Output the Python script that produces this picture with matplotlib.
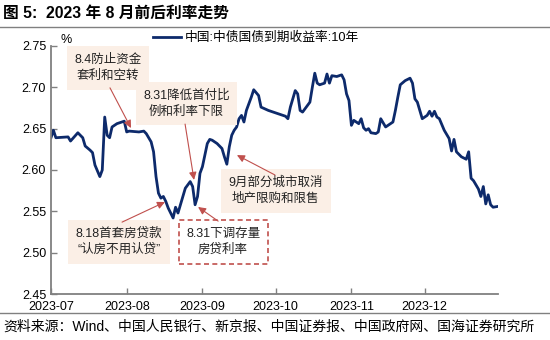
import matplotlib
matplotlib.use('Agg')
import matplotlib.pyplot as plt
import matplotlib.dates as mdates
import pandas as pd

plt.rcParams['font.family'] = ['Liberation Sans', 'Noto Sans CJK SC', 'DejaVu Sans']

# 10Y China government bond yield, Jul-Dec 2023
dates = [
    '2023-07-01', '2023-07-02', '2023-07-03', '2023-07-08', '2023-07-09', '2023-07-12',
    '2023-07-14', '2023-07-15', '2023-07-17', '2023-07-18', '2023-07-19', '2023-07-21',
    '2023-07-22', '2023-07-23', '2023-07-24', '2023-07-25', '2023-07-26', '2023-07-28',
    '2023-07-31', '2023-08-01', '2023-08-02', '2023-08-06', '2023-08-08', '2023-08-09',
    '2023-08-11', '2023-08-12', '2023-08-13', '2023-08-14', '2023-08-15', '2023-08-16',
    '2023-08-17', '2023-08-18', '2023-08-19', '2023-08-20', '2023-08-21', '2023-08-22',
    '2023-08-23', '2023-08-25', '2023-08-27', '2023-08-28', '2023-08-29', '2023-08-30',
    '2023-08-31', '2023-09-01', '2023-09-03', '2023-09-04', '2023-09-05', '2023-09-07',
    '2023-09-09', '2023-09-10', '2023-09-11', '2023-09-12', '2023-09-13', '2023-09-14',
    '2023-09-15', '2023-09-16', '2023-09-17', '2023-09-18', '2023-09-19', '2023-09-21',
    '2023-09-22', '2023-09-24', '2023-09-25', '2023-09-28', '2023-10-01', '2023-10-05',
    '2023-10-06', '2023-10-07', '2023-10-09', '2023-10-10', '2023-10-11', '2023-10-12',
    '2023-10-13', '2023-10-15', '2023-10-16', '2023-10-17', '2023-10-18', '2023-10-19',
    '2023-10-21', '2023-10-22', '2023-10-23', '2023-10-24', '2023-10-26', '2023-10-28',
    '2023-10-29', '2023-10-30', '2023-10-31', '2023-11-01', '2023-11-02', '2023-11-04',
    '2023-11-05', '2023-11-06', '2023-11-07', '2023-11-08', '2023-11-09', '2023-11-11',
    '2023-11-12', '2023-11-13', '2023-11-15', '2023-11-18', '2023-11-19', '2023-11-20',
    '2023-11-21', '2023-11-23', '2023-11-25', '2023-11-26', '2023-11-27', '2023-11-28',
    '2023-11-30', '2023-12-02', '2023-12-03', '2023-12-04', '2023-12-05', '2023-12-06',
    '2023-12-07', '2023-12-09', '2023-12-11', '2023-12-12', '2023-12-13', '2023-12-14',
    '2023-12-16', '2023-12-18', '2023-12-19', '2023-12-20', '2023-12-21', '2023-12-23',
    '2023-12-24', '2023-12-25', '2023-12-26', '2023-12-27', '2023-12-28', '2023-12-29',
    '2023-12-31',
]
yields = [
    2.639, 2.648, 2.639, 2.640, 2.635, 2.645,
    2.639, 2.629, 2.624, 2.621, 2.606, 2.592,
    2.600, 2.664, 2.642, 2.639, 2.652, 2.656,
    2.659, 2.646, 2.647, 2.646, 2.647, 2.644,
    2.634, 2.622, 2.592, 2.572, 2.566, 2.568,
    2.562, 2.554, 2.548, 2.542, 2.555, 2.548,
    2.558, 2.578, 2.586, 2.580, 2.558, 2.568,
    2.596, 2.604, 2.632, 2.637, 2.636, 2.632,
    2.626, 2.616, 2.607, 2.628, 2.642, 2.648,
    2.652, 2.662, 2.666, 2.658, 2.672, 2.688,
    2.697, 2.690, 2.676, 2.672, 2.669, 2.665,
    2.662, 2.676, 2.696, 2.692, 2.672, 2.670,
    2.674, 2.682, 2.700, 2.717, 2.705, 2.703,
    2.705, 2.716, 2.705, 2.714, 2.713, 2.715,
    2.709, 2.692, 2.684, 2.654, 2.660, 2.656,
    2.662, 2.651, 2.648, 2.650, 2.645, 2.644,
    2.646, 2.662, 2.652, 2.658, 2.672, 2.688,
    2.703, 2.708, 2.711, 2.705, 2.686, 2.682,
    2.662, 2.666, 2.671, 2.665, 2.671, 2.664,
    2.662, 2.648, 2.638, 2.623, 2.637, 2.622,
    2.616, 2.613, 2.622, 2.590, 2.587, 2.577,
    2.568, 2.580, 2.559, 2.570, 2.558, 2.555,
    2.556,
]

y_ticks = [2.45, 2.50, 2.55, 2.60, 2.65, 2.70, 2.75]
month_ticks = ['2023-07-01', '2023-08-01', '2023-09-01', '2023-10-01', '2023-11-01', '2023-12-01']

series_label = '中国:中债国债到期收益率:10年'
title = '图 5:  2023 年 8 月前后利率走势'
source = '资料来源：Wind、中国人民银行、新京报、中国证券报、中国政府网、国海证券研究所'

# (text, text centre, arrow tail, arrow tip, dashed border) in axes fraction
notes = [
    ('8.4防止资金\n套利和空转', (0.128, 0.911), (0.132, 0.831), (0.179, 0.669), False),
    ('8.31降低首付比\n例和利率下限', (0.303, 0.768), (0.300, 0.685), (0.320, 0.460), False),
    ('9月部分城市取消\n地产限购和限售', (0.503, 0.415), (0.501, 0.480), (0.416, 0.560), False),
    ('8.18首套房贷款\n“认房不用认贷”', (0.152, 0.210), (0.159, 0.290), (0.255, 0.371), False),
    ('8.31下调存量\n房贷利率', (0.385, 0.210), (0.374, 0.294), (0.329, 0.351), True),
]

line_color = '#0D2A6B'
arrow_color = '#C0504D'
box_fill = '#FBEFE6'
spine_color = '#808080'

fig = plt.figure(figsize=(5.5, 3.4), dpi=100)
ax = fig.add_axes([0.0927, 0.135, 0.8127, 0.730])

x = pd.to_datetime(dates)
ax.plot(x, yields, color=line_color, linewidth=2, label=series_label)

ax.set_xlim(pd.Timestamp('2023-07-01'), pd.Timestamp('2023-12-31'))
ax.set_ylim(2.45, 2.75)
ax.set_yticks(y_ticks)
ax.set_yticklabels([f'{v:.2f}' for v in y_ticks])
ax.set_xticks(pd.to_datetime(month_ticks))
ax.xaxis.set_major_formatter(mdates.DateFormatter('%Y-%m'))

for side in ['top', 'right']:
    ax.spines[side].set_visible(False)
for side in ['left', 'bottom']:
    ax.spines[side].set_color(spine_color)
    ax.spines[side].set_linewidth(1.3)
ax.tick_params(direction='in', length=4, width=1, colors=spine_color,
               labelcolor='black', labelsize=9)
ax.tick_params(axis='x', pad=5)

ax.text(0.022, 1.0, '%', transform=ax.transAxes, fontsize=9, va='bottom')

fig.legend(loc='center', bbox_to_anchor=(0.465, 0.888), frameon=False,
           fontsize=9.2, handlelength=2.2, handletextpad=0.3)

for text, pos, tail, tip, dashed in notes:
    if dashed:
        box = dict(boxstyle='square,pad=0.6', facecolor='white',
                   edgecolor=arrow_color, linestyle=(0, (3, 2)), linewidth=1.2)
    else:
        box = dict(boxstyle='square,pad=0.6', facecolor=box_fill, edgecolor='none')
    ax.text(pos[0], pos[1], text, transform=ax.transAxes, ha='center', va='center',
            fontsize=9, color='#222222', linespacing=1.45, bbox=box, zorder=4)
    ax.annotate('', xy=tip, xycoords='axes fraction', xytext=tail,
                textcoords='axes fraction',
                arrowprops=dict(arrowstyle='-|>,head_length=0.45,head_width=0.22',
                                color=arrow_color, linewidth=0.8,
                                shrinkA=0, shrinkB=0), zorder=5)

fig.text(0.006, 0.962, title, fontsize=11.3, fontweight='bold', va='center')
fig.add_artist(plt.Line2D([0, 1], [0.921, 0.921], transform=fig.transFigure,
                          color=spine_color, linewidth=1))
fig.add_artist(plt.Line2D([0, 1], [0.080, 0.080], transform=fig.transFigure,
                          color=spine_color, linewidth=1))
fig.text(0.006, 0.040, source, fontsize=10, va='center')

fig.savefig('out.png', dpi=100)
